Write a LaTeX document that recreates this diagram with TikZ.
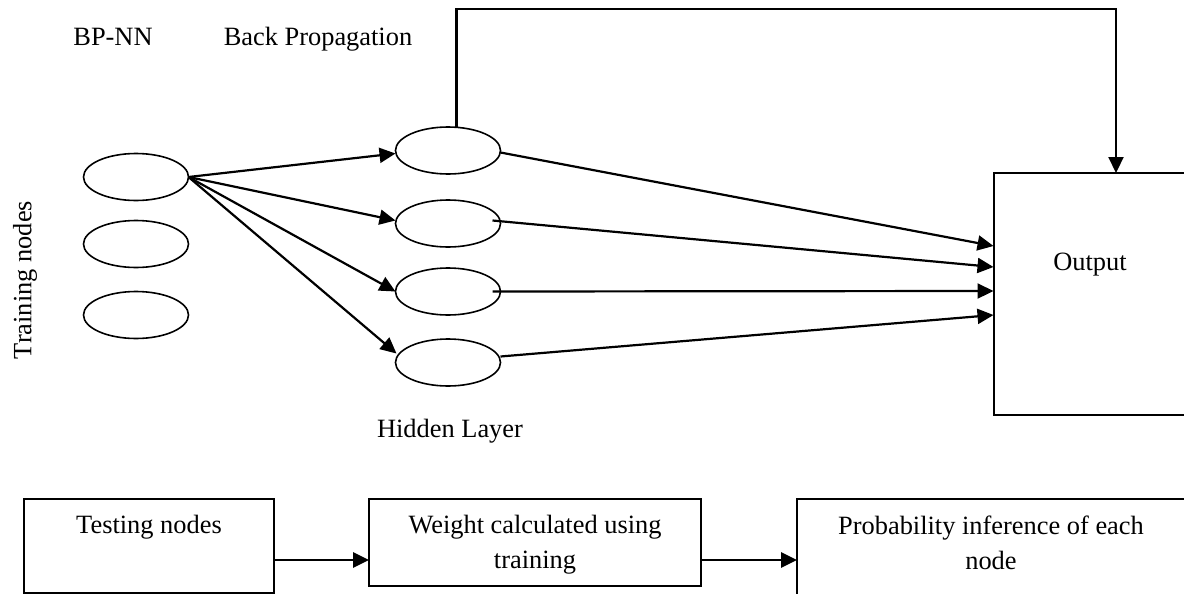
\documentclass[tikz,border=0pt]{standalone}
\usepackage{fontspec}
\setmainfont{Liberation Serif}
\usetikzlibrary{arrows.meta,shapes.geometric,calc}
\begin{document}
\begin{tikzpicture}[x=1pt,y=-1pt,
  every node/.style={font=\fontsize{26.4}{35}\selectfont, inner sep=0pt, outer sep=0pt},
  neuron/.style={ellipse, draw, line width=1.6pt, minimum width=105pt, minimum height=47pt},
  link/.style={line width=2.2pt},
  arr/.style={link, -{Triangle[length=16pt,width=15pt]}},
  thickarr/.style={arr, line width=2.8pt},
  box/.style={draw, line width=2pt, rectangle, anchor=north west},
  lbl/.style={anchor=center, align=center}]
\useasboundingbox (0,0) rectangle (1184,594);
\clip (0,0) rectangle (1184,594);

% titles
\node[lbl] (bpnn) at (113,37) {BP-NN};
\node[lbl] (bp) at (318,39.5) {Back Propagation};
\node[lbl, rotate=90] (train) at (25,280) {Training nodes};
\node[lbl] (hid) at (450,431) {Hidden Layer};

% input (training) nodes
\node[neuron] (in1) at (136,177) {};
\node[neuron] (in2) at (136,244) {};
\node[neuron] (in3) at (136,315) {};

% hidden layer
\node[neuron] (h1) at (448,150.5) {};
\node[neuron] (h2) at (448,223.5) {};
\node[neuron] (h3) at (448,291.5) {};
\node[neuron] (h4) at (448,362.5) {};

% output block
\node[box, minimum width=192.5pt, minimum height=242pt] (out) at (993.5,173) {};
\node[lbl] (outtxt) at (1090,265) {Output};

% entry points on the output block
\coordinate (o1) at ($(out.north west)+(0,73)$);
\coordinate (o2) at ($(out.north west)+(0,94)$);
\coordinate (o3) at ($(out.north west)+(0,118)$);
\coordinate (o4) at ($(out.north west)+(0,142)$);

% input -> hidden
\draw[arr] (in1.east) -- ($(h1.west)+(0,3)$);
\draw[arr] (in1.east) -- ($(h2.west)+(0,-3)$);
\draw[arr] (in1.east) -- (h3.west);
\draw[arr] (in1.east) -- ($(h4.west)+(1,-9)$);

% hidden -> output
\draw[arr] ($(h1.east)+(0,2)$) -- (o1);
\draw[arr] ($(h2.east)+(-8,-3)$) -- (o2);
\draw[arr] ($(h3.east)+(-8,0)$) -- (o3);
\draw[arr] ($(h4.east)+(0,-6)$) -- (o4);

% feedback path over the top
\coordinate (fb) at (456.5,9.3);
\coordinate (fbr) at (1116,9.3);
\draw[arr] (h1.north -| fb) -- (fb) -- (fbr) -- (fbr |- out.north);

% testing pipeline
\node[box, minimum width=249.5pt, minimum height=94pt] (t1) at (24,499) {};
\node[box, minimum width=332pt, minimum height=87pt] (t2) at (369,499) {};
\node[box, minimum width=390pt, minimum height=120pt] (t3) at (797,499) {};
\node[lbl] (t1txt) at (149,527.5) {Testing nodes};
\node[lbl] (t2txt) at (535,544.5) {Weight calculated using\\training};
\node[lbl] (t3txt) at (991,543) {Probability inference of each\\node};

\coordinate (ya) at (0,560);
\draw[thickarr] (t1.east |- ya) -- (t2.west |- ya);
\draw[thickarr] (t2.east |- ya) -- (t3.west |- ya);
\end{tikzpicture}
\end{document}
